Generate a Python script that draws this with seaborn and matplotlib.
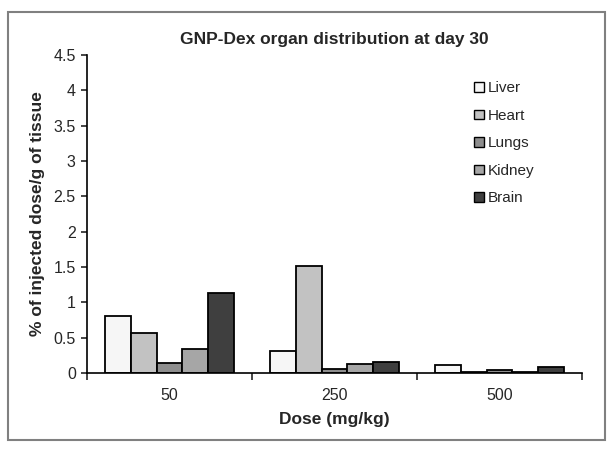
import matplotlib
matplotlib.use("Agg")
import matplotlib.pyplot as plt
import seaborn as sns
import pandas as pd
from matplotlib.patches import Rectangle, Patch

doses = ["50", "250", "500"]
organs = ["Liver", "Heart", "Lungs", "Kidney", "Brain"]
liver = [0.80, 0.31, 0.11]
heart = [0.56, 1.52, 0.02]
lungs = [0.14, 0.06, 0.04]
kidney = [0.34, 0.12, 0.02]
brain = [1.13, 0.15, 0.08]
colors = ["#f6f6f6", "#c2c2c2", "#8e8e8e", "#a6a6a6", "#3f3f3f"]

rows = []
for organ, vals in zip(organs, [liver, heart, lungs, kidney, brain]):
    for d, v in zip(doses, vals):
        rows.append({"dose": d, "organ": organ, "value": v})
df = pd.DataFrame(rows)

sns.set_style("white")
plt.rcParams["font.family"] = ["Liberation Sans", "DejaVu Sans"]

fig = plt.figure(figsize=(6.12, 4.51), dpi=100)
ax = fig.add_axes([0.142, 0.173, 0.809, 0.705])

sns.barplot(data=df, x="dose", y="value", hue="organ", order=doses,
            hue_order=organs, palette=colors, width=0.78, gap=0,
            edgecolor="black", linewidth=1.3, ax=ax, legend=False)

ax.set_ylim(0, 4.5)
ax.set_xlim(-0.5, 2.5)
ax.set_yticks([0, 0.5, 1, 1.5, 2, 2.5, 3, 3.5, 4, 4.5])
ax.set_yticklabels(["0", "0.5", "1", "1.5", "2", "2.5", "3", "3.5", "4", "4.5"])
ax.set_xticks([-0.5, 0.5, 1.5, 2.5], minor=True)
ax.tick_params(axis="x", which="major", length=0, labelsize=11.5, pad=11)
ax.tick_params(axis="x", which="minor", length=5, width=1.2, direction="out", bottom=True)
ax.tick_params(axis="y", length=4, width=1.2, direction="out", left=True, labelsize=11.5, pad=4)
for s in ["top", "right"]:
    ax.spines[s].set_visible(False)
for s in ["left", "bottom"]:
    ax.spines[s].set_color("black")
    ax.spines[s].set_linewidth(1.2)

ax.set_xlabel("Dose (mg/kg)", fontsize=12.5, fontweight="bold", labelpad=6)
ax.set_ylabel("% of injected dose/g of tissue", fontsize=12.5, fontweight="bold", labelpad=6)
ax.set_title("GNP-Dex organ distribution at day 30", fontsize=12.5, fontweight="bold", pad=8)

handles = [Patch(facecolor=c, edgecolor="black", linewidth=1) for c in colors]
ax.legend(handles, organs, loc="upper left", bbox_to_anchor=(0.755, 0.96), frameon=False,
          fontsize=11, handlelength=0.6, handleheight=0.6, handletextpad=0.25,
          labelspacing=0.88)

fig.patches.append(Rectangle((0.013, 0.024), 0.976, 0.949, transform=fig.transFigure,
                             fill=False, edgecolor="#808080", linewidth=1.5))

fig.savefig("out.png", dpi=100)
